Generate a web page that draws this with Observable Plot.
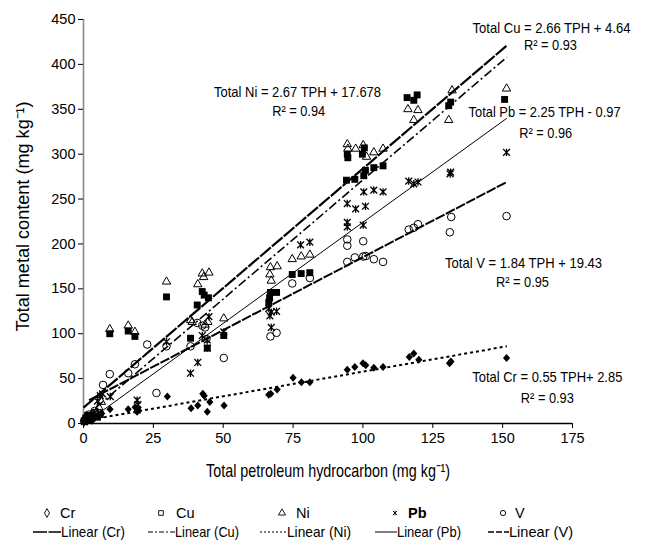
<!DOCTYPE html>
<html><head><meta charset="utf-8">
<script src="https://cdn.jsdelivr.net/npm/d3@7"></script>
<script src="https://cdn.jsdelivr.net/npm/@observablehq/plot@0.6"></script>
<style>
body{margin:0;background:#fff;}
#chart{width:665px;}
#chart svg{display:block;}
</style></head><body><div id="chart"></div>
<script>
const FONT = '"Liberation Sans","Arial",sans-serif';

// ---------- data ----------
const seriesNames = ["Cr", "Cu", "Ni", "Pb", "V"];

const crX = [0.2,0.6,1.2,2,3,4,5,6.5,9.5,16,18.5,19.2,30,38.5,40.9,42.7,43.2,44.3,45.2,50.3,66.3,67,69.3,75,78,81,94.4,97.1,100,101,103.9,107.2,116.6,118.2,120,131,131.5,151.4];
const crY = [1,4,2,6,3,7,9,11,16,16,18,13,30,17,20,33,31,13,24,20,32,33,38,51,46,46,60,63,67,65,62,63,74,78,71,67,69,73];

const cuX = [0.3,0.8,1.5,2.5,3.5,5,6,9.4,16,18.4,19.3,29.7,38.3,40.7,42.5,43.2,44.7,44.3,50.2,66.3,66.6,66.9,69.1,74.7,77.9,81,94.1,94.4,94.6,97.1,100.3,100.9,99.8,100.5,103.9,107.2,115.8,118.2,119.4,130.7,131.4,150.7];
const cuY = [3,6,9,5,8,7,10,100,103,97,15,141,95,132,147,143,140,84,98,135,140,146,146,166,167,168,271,300,296,272,276,282,300,307,285,287,363,360,366,354,358,361];

const niX = [0.3,1,2,3,4.5,5.5,6.4,9.4,16,18.4,29.7,38.3,38.9,40.9,42.5,43,44.9,43.5,44.5,50.2,66.7,66.9,67.2,69.3,74.7,77.9,81,94.4,94.6,97.4,100.1,101.3,103.9,107.2,116.1,118.2,119.7,130.7,131.9,151.4];
const niY = [5,8,4,10,12,18,24,105,109,102,158,115,113,155,167,163,168,110,113,117,166,174,159,175,183,186,188,311,306,306,310,297,302,306,350,338,349,338,371,373];

const pbX = [0.3,1,2,3,4,5,6,6.8,9.6,19.2,19.5,29.7,38.3,40.9,42.5,44.3,44.3,44.9,50.2,66.3,66.7,67.2,67.2,69.1,77.7,81,94.4,94.4,94.4,97.4,100.1,100.3,100.9,103.9,107.2,116.4,118.2,119.7,131.2,131.4,151.4];
const pbY = [2,5,8,6,12,25,31,33,30,26,21,91,56,68,98,93,84,119,102,128,120,124,107,125,199,202,245,224,219,239,221,258,242,260,258,270,267,269,278,280,302];

const vX = [0.3,1,2,3,4,5,7,9.4,16,18.4,22.8,26.1,29.7,38.3,40.7,42.5,43.5,44,50.2,66.9,69.1,74.7,81,94.4,94.4,94.4,97.1,100.1,100.1,101,103.9,107.2,116.4,118.2,119.7,131.1,131.6,151.4];
const vY = [3,6,10,8,14,12,43,55,56,66,88,34,86,86,112,109,107,94,73,97,101,156,162,180,198,205,185,186,203,186.5,183,180,216,218,222,213,230,231];

// fitted trend lines as drawn (end points)
const lineNames = ["Linear (Cr)", "Linear (Cu)", "Linear (Ni)", "Linear (Pb)", "Linear (V)"];
const lineX1 = [0, 0, 3, 5.5, 2];
const lineY1 = [17.7, 6, 4.5, 11.4, 26];
const lineX2 = [151.5, 151.5, 151.5, 151.5, 151.5];
const lineY2 = [421, 408, 86, 340, 269];

const xTicks = [0, 25, 50, 75, 100, 125, 150, 175];
const yTicks = [0, 50, 100, 150, 200, 250, 300, 350, 400, 450];

const eqTexts = [
  "Total Ni = 2.67 TPH + 17.678", "R² = 0.94",
  "Total Cu = 2.66 TPH + 4.64", "R² = 0.93",
  "Total Pb = 2.25 TPH - 0.97", "R² = 0.96",
  "Total V = 1.84 TPH + 19.43", "R² = 0.95",
  "Total Cr = 0.55 TPH+ 2.85", "R² = 0.93"
];
const xTitle = "Total petroleum hydrocarbon (mg kg⁻¹)";
const yTitle = "Total metal content (mg kg⁻¹)";

// ---------- layout / style ----------
const eqPos = [[76.6,368.6],[77,347.4],[167.5,440],[167.1,421],[165,346.3],[165.4,323],[157.5,178.2],[157.1,157],[166,51.2],[166,27.8]];
const eqWidth = [167, 53, 158, 53, 152, 53, 157, 53, 150, 53];
const lineStyle = [
  {strokeWidth:2.2, dash:"14,1.5"},
  {strokeWidth:1.6, dash:"9,3,2,3"},
  {strokeWidth:2, dash:"3,3"},
  {strokeWidth:1, dash:null},
  {strokeWidth:2, dash:"10,1.5"}
];
const diamondSym = {draw(ctx, size){const r=Math.sqrt(size/Math.PI); ctx.moveTo(0,-r);ctx.lineTo(r*0.9,0);ctx.lineTo(0,r);ctx.lineTo(-r*0.9,0);ctx.closePath();}};
const starSym = {draw(ctx, size){const r=Math.sqrt(size/Math.PI); ctx.moveTo(-r,-r);ctx.lineTo(r,r);ctx.moveTo(r,-r);ctx.lineTo(-r,r);ctx.moveTo(0,-r*1.1);ctx.lineTo(0,r*1.1);}};
const markStyle = {
  Cr:{symbol:diamondSym, fill:"black", stroke:"none", r:4},
  Cu:{symbol:"square", fill:"black", stroke:"none", r:3.9},
  Ni:{symbol:"triangle2", fill:"none", stroke:"black", r:4, strokeWidth:1},
  Pb:{symbol:starSym, fill:"none", stroke:"black", r:3.4, strokeWidth:1.3},
  V:{symbol:"circle", fill:"none", stroke:"black", r:3.8, strokeWidth:1}
};

const seriesData = {Cr:[crX,crY], Cu:[cuX,cuY], Ni:[niX,niY], Pb:[pbX,pbY], V:[vX,vY]};
const points = seriesNames.flatMap(s => seriesData[s][0].map((x,i)=>({series:s, x, y:seriesData[s][1][i]})));
const lines = lineNames.map((n,i)=>({name:n, x1:lineX1[i], y1:lineY1[i], x2:lineX2[i], y2:lineY2[i]}));
const eqs = eqTexts.map((t,i)=>({text:t, x:eqPos[i][0], y:eqPos[i][1]}));

const marks = [
  Plot.ruleX([0], {stroke:"#8a8a8a", strokeWidth:1.6}),
  Plot.axisY({ticks:yTicks, tickSize:5, tickPadding:3, label:null, fontSize:14.5, stroke:"#000"}),
  Plot.axisX({ticks:xTicks, tickSize:5, tickPadding:4, label:null, fontSize:14.5}),
];
lines.forEach((l,i)=>{
  marks.push(Plot.link([l], {x1:"x1", y1:"y1", x2:"x2", y2:"y2", stroke:"black", strokeWidth:lineStyle[i].strokeWidth, strokeDasharray:lineStyle[i].dash}));
});
seriesNames.forEach(s=>{
  marks.push(Plot.dot(points.filter(d=>d.series===s), {x:"x", y:"y", ...markStyle[s]}));
});
marks.push(Plot.ruleY([0], {stroke:"#000", strokeWidth:1.6}));
marks.push(Plot.text(eqs, {x:"x", y:"y", text:"text", fontSize:15, fill:"black"}));
marks.push(Plot.text([yTitle], {frameAnchor:"left", textAnchor:"middle", lineAnchor:"middle", dx:-61, dy:-5, rotate:-90, fontSize:19, fill:"black"}));
marks.push(Plot.text([xTitle], {frameAnchor:"bottom", textAnchor:"middle", lineAnchor:"middle", dy:47, fontSize:19, fill:"black"}));

const plot = Plot.plot({
  width:665, height:490,
  marginLeft:83, marginRight:93, marginTop:19, marginBottom:67,
  x:{domain:[0,175]},
  y:{domain:[0,450]},
  style:{fontFamily:FONT, fontSize:"15px", color:"#000", background:"#fff", overflow:"visible"},
  marks
});
document.getElementById("chart").appendChild(plot);

// condense texts to the narrow face of the reference
const widthOf = new Map(eqTexts.map((t,i)=>[t, eqWidth[i]]));
widthOf.set(xTitle, 244);
widthOf.set(yTitle, 230);
plot.querySelectorAll("text").forEach(t=>{
  const w = widthOf.get(t.textContent);
  if (w) { t.setAttribute("textLength", w); t.setAttribute("lengthAdjust", "spacingAndGlyphs"); }
});

// ---------- legend (below the plot SVG) ----------
const leg = d3.select("#chart").append("svg").attr("width",665).attr("height",52)
  .style("font-family", FONT).style("font-size","14.5px");
const symX = [47, 161, 282, 395, 503];
const labX = [60, 176, 296, 408, 515];
const legSyms = [d3.symbolDiamond, d3.symbolSquare, d3.symbolTriangle, starSym, d3.symbolCircle];
seriesNames.forEach((s,i)=>{
  leg.append("path").attr("transform",`translate(${symX[i]},23)`)
    .attr("d", d3.symbol(legSyms[i], i===3 ? 14 : 22)())
    .attr("fill","none").attr("stroke","black").attr("stroke-width",0.9);
  leg.append("text").attr("x",labX[i]).attr("y",28).text(s)
    .attr("font-weight", s==="Pb" ? "bold" : null);
});
const lineSX = [33, 148, 260, 375, 488];
const lineLX = [61, 175, 287, 397, 509];
const legDash = ["14,1.5", "5,2,2,2", "2,2", null, "6,2"];
const legW = [1.6, 1.2, 1, 1, 1.4];
lineNames.forEach((n,i)=>{
  leg.append("line").attr("x1",lineSX[i]).attr("x2",lineLX[i]).attr("y1",42).attr("y2",42)
    .attr("stroke","black").attr("stroke-width",legW[i]).attr("stroke-dasharray",legDash[i]);
  leg.append("text").attr("x",lineLX[i]).attr("y",47).text(n)
    .attr("textLength", 64).attr("lengthAdjust","spacingAndGlyphs");
});
</script></body></html>
